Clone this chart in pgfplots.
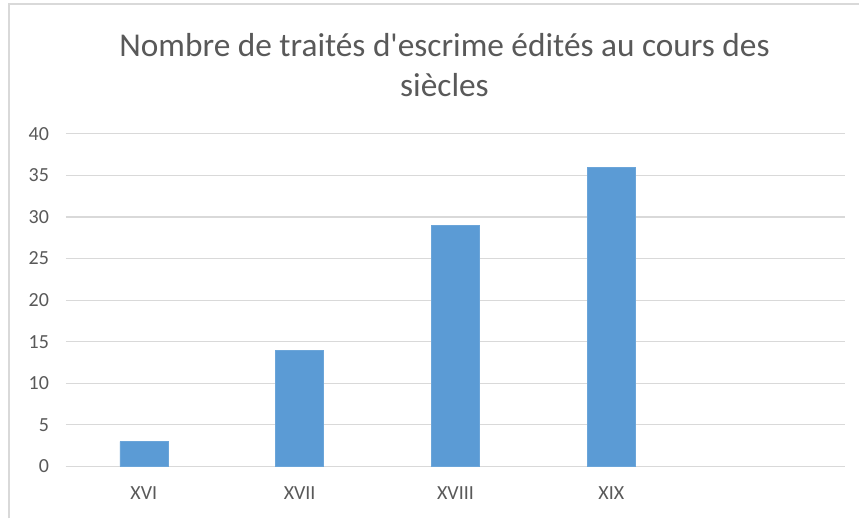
\documentclass[border=0pt]{standalone}
\usepackage{pgfplots}
\pgfplotsset{compat=1.18}
\usepackage{fontspec}
\setmainfont{Carlito}
\definecolor{barblue}{HTML}{5B9BD5}
\definecolor{gridgray}{HTML}{D9D9D9}
\definecolor{txtgray}{HTML}{595959}
\begin{document}
\begin{tikzpicture}
\fill[white] (0pt,0pt) rectangle (645pt,389.25pt);
\draw[gridgray,line width=1.5pt] (6.75pt,0pt) -- (6.75pt,386.25pt) -- (645pt,386.25pt);
\node[txtgray,font=\fontsize{25}{30}\selectfont,align=center] at (333.75pt,340.5pt) {Nombre de traités d\textquotesingle escrime édités au cours des\\siècles};
\begin{axis}[
  at={(49.5pt,39pt)}, anchor=south west,
  scale only axis,
  width=585pt, height=249.75pt,
  xmin=-0.5, xmax=4.5,
  ymin=0, ymax=40,
  ytick={0,5,...,40},
  xtick={0,1,2,3},
  xticklabels={XVI,XVII,XVIII,XIX},
  axis line style={draw=none},
  ymajorgrids,
  grid style={gridgray,line width=0.9pt},
  major tick length=0pt,
  tick label style={txtgray,font=\fontsize{15}{17}\selectfont},
  /pgf/number format/assume math mode=true,
  yticklabel style={anchor=east,xshift=-9.25pt},
  xticklabel style={anchor=center,yshift=-20pt},
  clip=false,
]
\draw[gridgray,line width=0.9pt] (axis cs:-0.5,0) -- (axis cs:4.5,0);
\addplot[ybar, bar width=36pt, fill=barblue, draw=barblue!90!white] coordinates {(0,3) (1,14) (2,29) (3,36)};
\end{axis}
\end{tikzpicture}
\end{document}
